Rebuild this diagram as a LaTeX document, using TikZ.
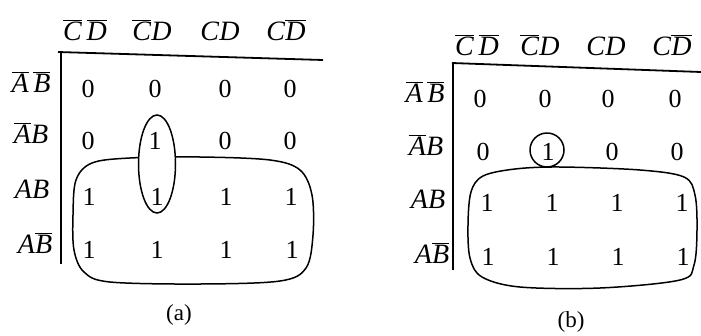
\documentclass[tikz,border=0pt]{standalone}
\usepackage{fontspec}
\setmainfont{Liberation Serif}
\newcommand{\olv}[1]{$\overline{\mbox{\textit{#1}}}$}
\newcommand{\itv}[1]{\textit{#1}}
\begin{document}
\begin{tikzpicture}[x=1pt,y=-1pt,
  hdr/.style={inner sep=0pt, anchor=base, font=\fontsize{28}{30}\selectfont},
  cell/.style={inner sep=0pt, font=\fontsize{26}{28}\selectfont},
  capt/.style={inner sep=0pt, font=\fontsize{23}{25}\selectfont},
  frame/.style={line width=1.8pt},
  grp/.style={line width=1.5pt}]
\useasboundingbox (0,0) rectangle (701,335);
% ---------- (a) ----------
\draw[grp] plot[smooth cycle, tension=0.55] coordinates {(73,215) (76,180) (92,163) (130,158) (200,157) (270,160) (300,170) (312,195) (313,235) (306,268) (280,281) (200,284) (110,282) (84,272) (74,250)};
\draw[grp, fill=white] (157,164) ellipse [x radius=18.5pt, y radius=49pt];
\node[hdr] (ah1) at (85,40) {\olv{C}\,\olv{D}};
\node[hdr] (ah2) at (152,40) {\olv{C}\itv{D}};
\node[hdr] (ah3) at (220,40) {\itv{C}\itv{D}};
\node[hdr] (ah4) at (286,40) {\itv{C}\olv{D}};
\node[hdr] (ar1) at (31,92) {\olv{A}\,\olv{B}};
\node[hdr] (ar2) at (31,143) {\olv{A}\itv{B}};
\node[hdr] (ar3) at (32,198) {\itv{A}\itv{B}};
\node[hdr] (ar4) at (35,253) {\itv{A}\olv{B}};
\coordinate (aH1) at (58,52); \coordinate (aH2) at (323,60);
\coordinate (aV1) at (61,51); \coordinate (aV2) at (61,264);
\draw[frame] (aH1) -- (aH2);
\draw[frame] (aV1) -- (aV2);
\foreach \v [count=\c] in {0,0,0,0} {\node[cell] (a1\c) at ({\ifcase\c\or 88\or 155\or 225\or 290\fi},89) {\v};}
\foreach \v [count=\c] in {0,1,0,0} {\node[cell] (a2\c) at ({\ifcase\c\or 88\or 155\or 225\or 290\fi},141) {\v};}
\foreach \v [count=\c] in {1,1,1,1} {\node[cell] (a3\c) at ({\ifcase\c\or 89\or 157\or 226\or 291\fi},197) {\v};}
\foreach \v [count=\c] in {1,1,1,1} {\node[cell] (a4\c) at ({\ifcase\c\or 89\or 157\or 226\or 292\fi},250) {\v};}
\node[capt] (acap) at (179,315) {(a)};
% ---------- (b) ----------
\draw[grp] plot[smooth cycle, tension=0.55] coordinates {(468,225) (471,192) (483,176) (515,169) (560,167) (640,170) (684,177) (695,195) (697,230) (694,265) (680,280) (600,288) (520,287) (482,277) (470,258)};
\draw[grp, fill=white] (547,150) circle [radius=17pt];
\node[hdr] (bh1) at (477,55) {\olv{C}\,\olv{D}};
\node[hdr] (bh2) at (540,55) {\olv{C}\itv{D}};
\node[hdr] (bh3) at (606,55) {\itv{C}\itv{D}};
\node[hdr] (bh4) at (672,55) {\itv{C}\olv{D}};
\node[hdr] (br1) at (425,102) {\olv{A}\,\olv{B}};
\node[hdr] (br2) at (426,155) {\olv{A}\itv{B}};
\node[hdr] (br3) at (428,208) {\itv{A}\itv{B}};
\node[hdr] (br4) at (432,263) {\itv{A}\olv{B}};
\coordinate (bH1) at (452,63); \coordinate (bH2) at (701,72);
\coordinate (bV1) at (453,62); \coordinate (bV2) at (453,270);
\draw[frame] (bH1) -- (bH2);
\draw[frame] (bV1) -- (bV2);
\foreach \v [count=\c] in {0,0,0,0} {\node[cell] (b1\c) at ({\ifcase\c\or 480\or 545\or 608\or 675\fi},99) {\v};}
\foreach \v [count=\c] in {0,1,0,0} {\node[cell] (b2\c) at ({\ifcase\c\or 483\or 548\or 612\or 677\fi},152) {\v};}
\foreach \v [count=\c] in {1,1,1,1} {\node[cell] (b3\c) at ({\ifcase\c\or 487\or 552\or 617\or 682\fi},203) {\v};}
\foreach \v [count=\c] in {1,1,1,1} {\node[cell] (b4\c) at ({\ifcase\c\or 488\or 553\or 618\or 683\fi},257) {\v};}
\node[capt] (bcap) at (571,322) {(b)};
\end{tikzpicture}
\end{document}
